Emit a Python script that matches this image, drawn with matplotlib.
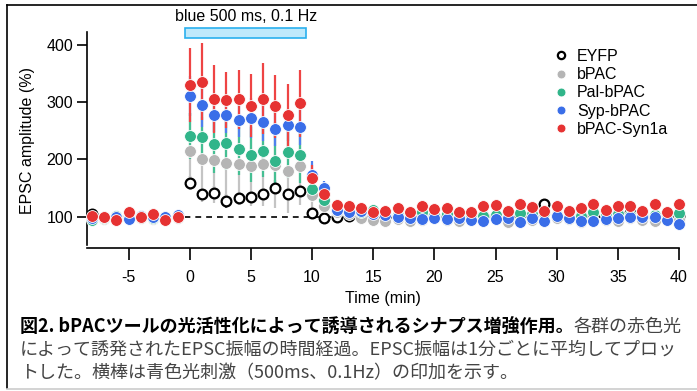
import matplotlib
matplotlib.use("Agg")
import matplotlib.pyplot as plt
from matplotlib.patches import Rectangle
from matplotlib.lines import Line2D

plt.rcParams['font.family'] = ['Liberation Sans', 'DejaVu Sans']

# time in minutes (one point per minute)
time = list(range(-8, 41))

eyfp = [104, 98, 100, 99, 100, 101, 98, 100,
        159, 139, 142, 128, 132, 135, 139, 151, 139, 145,
        107, 98, 100, 101,
        100, 102, 99, 101, 100, 102, 101, 101, 99, 100, 102, 101, 100, 101,
        102, 123, 101, 100, 102, 101, 100, 104, 106, 101, 100, 102, 101]
eyfp_err = [4, 4, 3, 4, 3, 4, 3, 3,
            12, 10, 11, 12, 11, 10, 12, 13, 12, 11,
            6, 5, 4, 4,
            4, 4, 4, 4, 4, 4, 4, 4, 4, 4, 4, 4, 4, 4,
            4, 5, 4, 4, 4, 4, 4, 4, 5, 4, 4, 4, 4]

bpac = [97, 96, 98, 100, 98, 96, 99, 97,
        214, 200, 199, 194, 192, 189, 192, 190, 179, 189,
        138, 119, 108, 104,
        98, 95, 93, 96, 92, 94, 97, 95, 93, 96, 94, 97, 91, 93,
        95, 92, 98, 96, 91, 94, 95, 93, 97, 95, 93, 96, 94]
bpac_err = [5, 5, 4, 5, 4, 5, 4, 5,
            68, 75, 75, 70, 72, 70, 73, 75, 72, 68,
            25, 15, 9, 8,
            8, 9, 8, 8, 9, 8, 8, 9, 8, 8, 9, 8, 9, 8,
            8, 9, 8, 8, 9, 8, 8, 9, 8, 8, 8, 9, 8]

pal_bpac = [94, 97, 101, 98, 101, 98, 99, 102,
            241, 239, 227, 229, 218, 208, 214, 198, 213, 207,
            148, 130, 112, 110,
            108, 112, 104, 103, 104, 108, 103, 104, 103, 101, 102, 103, 104, 106,
            104, 106, 103, 102, 101, 108, 103, 104, 103, 104, 103, 104, 106]
pal_bpac_err = [5, 5, 4, 5, 4, 5, 4, 5,
                40, 45, 50, 48, 45, 48, 45, 50, 45, 48,
                18, 10, 7, 6,
                6, 6, 5, 6, 5, 6, 5, 6, 5, 6, 5, 6, 5, 6,
                5, 6, 5, 6, 5, 6, 5, 6, 5, 6, 5, 6, 6]

syp_bpac = [98, 100, 99, 96, 101, 99, 100, 103,
            311, 295, 278, 278, 269, 272, 265, 254, 260, 256,
            172, 150, 112, 108,
            110, 105, 103, 100, 97, 96, 98, 96, 97, 95, 93, 96, 98, 90,
            97, 92, 101, 97, 92, 92, 96, 97, 99, 100, 99, 95, 87]
syp_bpac_err = [5, 4, 4, 5, 4, 4, 4, 5,
                35, 38, 30, 32, 30, 35, 33, 30, 28, 30,
                25, 12, 7, 6,
                6, 5, 5, 6, 5, 5, 5, 6, 5, 5, 5, 6, 5, 5,
                5, 6, 5, 5, 5, 6, 5, 5, 5, 6, 5, 5, 5]

bpac_syn1a = [101, 100, 95, 108, 99, 104, 95, 100,
              330, 336, 306, 304, 305, 294, 306, 293, 277, 298,
              168, 139, 120, 119,
              115, 109, 110, 115, 109, 119, 113, 115, 109, 109, 118, 120, 110, 122,
              117, 110, 119, 110, 115, 122, 112, 119, 119, 110, 122, 109, 123]
bpac_syn1a_err = [5, 4, 4, 5, 4, 4, 4, 4,
                  64, 67, 59, 49, 51, 55, 62, 55, 55, 58,
                  22, 12, 8, 8,
                  7, 7, 6, 7, 6, 7, 6, 7, 6, 7, 6, 7, 6, 7,
                  6, 7, 6, 7, 6, 7, 6, 7, 6, 7, 6, 7, 8]

stim_start, stim_end = -0.35, 9.5

W, H = 697, 391
fig = plt.figure(figsize=(W / 100, H / 100), dpi=100)


def fy(px):
    return 1 - px / H


ax = fig.add_axes([87 / W, fy(248), (679 - 87) / W, (248 - 32) / H])
ax.set_xlim(-8.4, 40)
ax.set_ylim(45.3, 422.7)

ax.axhline(100, color='black', lw=1.2, dashes=(3.5, 3), zorder=1)

# name, values, errors, marker colour, bar colour, marker zorder
series = [
    ("EYFP", eyfp, eyfp_err, 'black', '#555555', 3),
    ("bPAC", bpac, bpac_err, '#b5b5b5', '#c4c4c4', 4),
    ("Pal-bPAC", pal_bpac, pal_bpac_err, '#31b58a', '#45bf93', 5),
    ("Syp-bPAC", syp_bpac, syp_bpac_err, '#3a6ee8', '#4f80ee', 6),
    ("bPAC-Syn1a", bpac_syn1a, bpac_syn1a_err, '#e63232', '#ee4444', 7),
]
handles = {}
for name, vals, errs, col, ecol, z in series:
    ax.errorbar(time, vals, yerr=errs, fmt='none', ecolor=ecol, elinewidth=1.6,
                capsize=0, zorder=2, clip_on=False)
    if name == "EYFP":
        ln, = ax.plot(time, vals, 'o', ms=7, mfc='white', mec='black', mew=1.6,
                      zorder=z, clip_on=False)
    else:
        ln, = ax.plot(time, vals, 'o', ms=8.5, mfc=col, mec='white', mew=0.6,
                      zorder=z, clip_on=False)
    handles[name] = ln

# stimulation bar
ax.add_patch(Rectangle((stim_start, 411.7), stim_end - stim_start, 17.5,
                       facecolor='#bfe9fb', edgecolor='#2ab0ee', lw=1.2,
                       clip_on=False, zorder=3))
ax.text((stim_start + stim_end) / 2, 449, "blue 500 ms, 0.1 Hz",
        ha='center', va='center', fontsize=11.5)

for s in ['top', 'right']:
    ax.spines[s].set_visible(False)
ax.spines['left'].set_bounds(50, 422.7)
ax.spines['left'].set_linewidth(1.2)
ax.spines['bottom'].set_linewidth(1.2)
ax.set_xticks([-5, 0, 5, 10, 15, 20, 25, 30, 35, 40])
ax.set_xticklabels(['-5', '0', '5', '10', '15', '20', '25', '30', '35', '40'])
ax.set_yticks([100, 200, 300, 400])
ax.tick_params(axis='x', direction='out', length=8.5, width=1.2, labelsize=11.5, pad=7)
ax.tick_params(axis='y', direction='out', length=7, width=1.2, labelsize=11.5, pad=3)
ax.set_xlabel("Time (min)", fontsize=11.5, labelpad=5)
ax.set_ylabel("EPSC amplitude (%)", fontsize=11.5, labelpad=8)
ax.patch.set_visible(False)

order = ["EYFP", "bPAC", "Pal-bPAC", "Syp-bPAC", "bPAC-Syn1a"]
ax.legend([handles[n] for n in order], order, loc='upper left',
          bbox_to_anchor=(546 / W, fy(41)), bbox_transform=fig.transFigure,
          frameon=False, fontsize=11.5, handlelength=0.9, handletextpad=0.55,
          labelspacing=0.2, borderpad=0, markerscale=0.75)

# caption
cap_font = ['Noto Sans CJK JP', 'DejaVu Sans']
cap_size = 13.0
t1 = fig.text(20 / W, fy(336), "図2. bPACツールの光活性化によって誘導されるシナプス増強作用。",
              fontsize=cap_size, family=cap_font, weight='bold', color='black', va='bottom')
fig.text(20 / W, fy(359), "によって誘発されたEPSC振幅の時間経過。EPSC振幅は1分ごとに平均してプロッ",
         fontsize=cap_size, family=cap_font, color='#444444', va='bottom')
fig.text(20 / W, fy(382), "トした。横棒は青色光刺激（500ms、0.1Hz）の印加を示す。",
         fontsize=cap_size, family=cap_font, color='#444444', va='bottom')

# outer frame
fig.add_artist(Line2D([7 / W, 7 / W], [fy(5), fy(388)], color='black', lw=1.2,
                      transform=fig.transFigure))
fig.add_artist(Line2D([7 / W, 1], [fy(5), fy(5)], color='black', lw=1.2,
                      transform=fig.transFigure))
fig.add_artist(Line2D([7 / W, 1], [fy(388.5), fy(388.5)], color='#cccccc', lw=1.2,
                      transform=fig.transFigure))

# regular part of caption line 1 goes right after the bold part
fig.canvas.draw()
bb = t1.get_window_extent()
fig.text(bb.x1 / W, bb.y0 / H, "各群の赤色光", fontsize=cap_size, family=cap_font,
         color='#444444', va='bottom', ha='left')

fig.savefig("out.png", dpi=100)
